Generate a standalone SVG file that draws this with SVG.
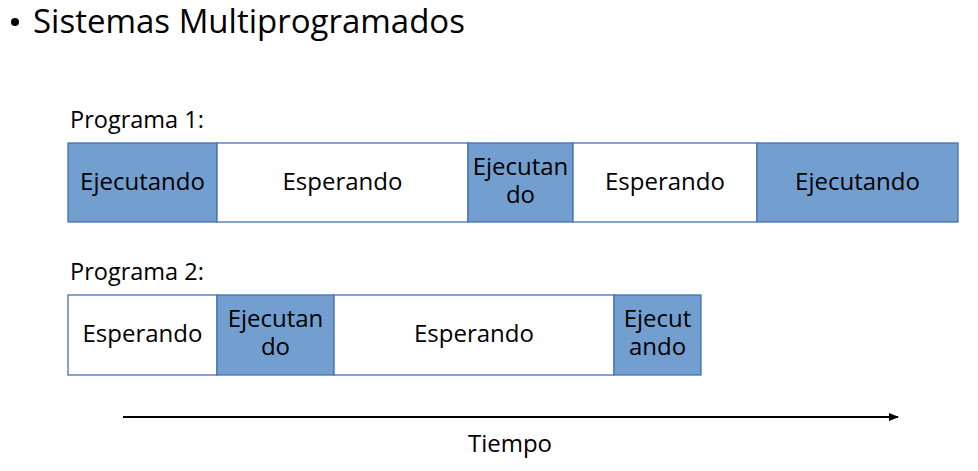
<svg xmlns="http://www.w3.org/2000/svg" width="978" height="471" viewBox="0 0 978 471">
<style>
text{font-family:"Open Sans","Liberation Sans",sans-serif;fill:#000}
.c{font-size:24px;text-anchor:middle}
.b{fill:#729fcf;stroke:#4472b4;stroke-width:1.3}
.w{fill:#fff;stroke:#4472b4;stroke-width:1.3}
.l{font-size:23.5px}
</style>
<defs><marker id="ah" markerWidth="10" markerHeight="8" refX="9" refY="4" orient="auto" markerUnits="userSpaceOnUse"><path d="M0,0 L10,4 L0,8 z" fill="#000"/></marker></defs>
<g id="title"><circle cx="15" cy="22" r="4" fill="#000"/><text x="33" y="33" style="font-size:33px">Sistemas Multiprogramados</text></g>
<text x="70" y="128" class="l">Programa 1:</text>
<g id="p1a"><rect x="68" y="143" width="149" height="79" class="b"/><text x="142.5" y="190" class="c">Ejecutando</text></g>
<g id="p1b"><rect x="217" y="143" width="251" height="79" class="w"/><text x="342.5" y="190" class="c">Esperando</text></g>
<g id="p1c"><rect x="468" y="143" width="105" height="79" class="b"/><text x="520.5" y="175" class="c">Ejecutan</text><text x="520.5" y="203" class="c">do</text></g>
<g id="p1d"><rect x="573" y="143" width="184" height="79" class="w"/><text x="665" y="190" class="c">Esperando</text></g>
<g id="p1e"><rect x="757" y="143" width="201" height="79" class="b"/><text x="857.5" y="190" class="c">Ejecutando</text></g>
<text x="70" y="280" class="l">Programa 2:</text>
<g id="p2a"><rect x="68" y="295" width="149" height="80" class="w"/><text x="142.5" y="342" class="c">Esperando</text></g>
<g id="p2b"><rect x="217" y="295" width="117" height="80" class="b"/><text x="275.5" y="327" class="c">Ejecutan</text><text x="275.5" y="355" class="c">do</text></g>
<g id="p2c"><rect x="334" y="295" width="280" height="80" class="w"/><text x="474" y="342" class="c">Esperando</text></g>
<g id="p2d"><rect x="614" y="295" width="87" height="80" class="b"/><text x="657.5" y="327" class="c">Ejecut</text><text x="657.5" y="355" class="c">ando</text></g>
<g id="connectors"><line x1="123" y1="417" x2="898" y2="417" stroke="#000" stroke-width="2" marker-end="url(#ah)"/></g>
<text x="510" y="452" class="c">Tiempo</text>
</svg>
